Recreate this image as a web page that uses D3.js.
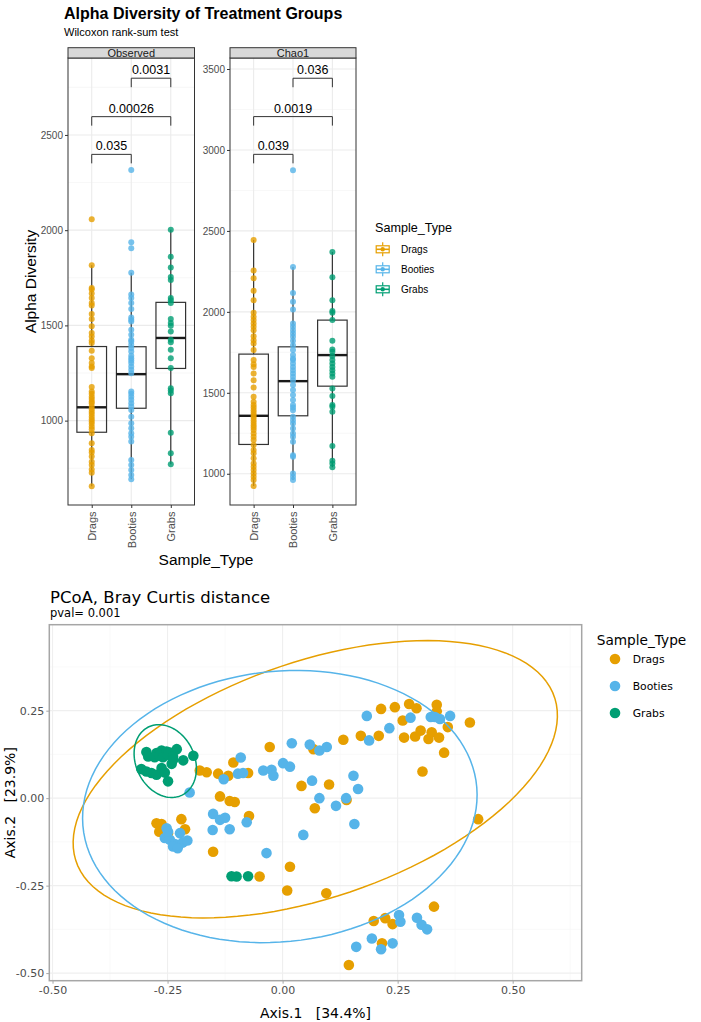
<!DOCTYPE html>
<html>
<head>
<meta charset="utf-8">
<script src="https://cdnjs.cloudflare.com/ajax/libs/d3/7.8.5/d3.min.js"></script>
<style>
body { margin: 0; background: #fff; }
svg { display: block; }
</style>
</head>
<body>
<svg width="701" height="1022"></svg>
<script>
var groups = ['Drags', 'Booties', 'Grabs'],
    colors = ['#E69F00', '#56B4E9', '#009E73'];

// Alpha diversity values, one array per facet and group
var observedDrags = [2058, 1816, 1697, 1688, 1667, 1644, 1618, 1604, 1560, 1534, 1495, 1460, 1442, 1421, 1407, 1367, 1328, 1302, 1284, 1276, 1176, 1153, 1141, 1126, 1113, 1100, 1091, 1074, 1060, 1047, 1035, 1021, 1007, 995, 983, 968, 955, 934, 881, 846, 832, 811, 784, 767, 744, 726, 656];
var observedBooties = [2316, 1937, 1905, 1776, 1662, 1644, 1618, 1586, 1542, 1530, 1521, 1477, 1451, 1425, 1416, 1398, 1381, 1363, 1340, 1328, 1316, 1302, 1284, 1267, 1249, 1153, 1141, 1126, 1109, 1091, 1074, 1056, 1021, 986, 960, 934, 916, 890, 793, 767, 741, 714, 692];
var observedGrabs = [2002, 1860, 1804, 1754, 1739, 1644, 1632, 1618, 1534, 1513, 1498, 1468, 1425, 1411, 1372, 1328, 1276, 1170, 1158, 1144, 937, 829, 771];
var chao1Drags = [2444, 2255, 2208, 2130, 2072, 1994, 1969, 1949, 1928, 1908, 1887, 1850, 1825, 1805, 1764, 1702, 1677, 1660, 1620, 1578, 1533, 1475, 1444, 1424, 1410, 1393, 1377, 1362, 1348, 1331, 1315, 1300, 1286, 1270, 1249, 1228, 1208, 1177, 1146, 1126, 1095, 1064, 1043, 1023, 1002, 981, 961, 924];
var chao1Booties = [2874, 2277, 2117, 2062, 2015, 1928, 1908, 1887, 1867, 1846, 1821, 1794, 1764, 1733, 1712, 1702, 1681, 1660, 1640, 1620, 1599, 1578, 1548, 1517, 1486, 1455, 1424, 1410, 1393, 1352, 1331, 1311, 1280, 1249, 1228, 1198, 1115, 1105, 1002, 981, 961];
var chao1Grabs = [2370, 2214, 2072, 2006, 1994, 1949, 1821, 1768, 1753, 1727, 1702, 1681, 1660, 1640, 1620, 1599, 1527, 1480, 1424, 1414, 1383, 1171, 1080, 1064, 1040];

// box stats: [lower whisker, q1, median, q3, upper whisker]
var observedBox = [[656, 939, 1070, 1389, 1816], [692, 1065, 1244, 1388, 1776], [771, 1274, 1434, 1621, 2002]];
var chao1Box = [[924, 1181, 1358, 1739, 2444], [961, 1358, 1572, 1784, 2277], [1040, 1541, 1733, 1949, 2370]];

var observedTicks = [1000, 1500, 2000, 2500],
    observedMinor = [750, 1250, 1750, 2250, 2750],
    chao1Ticks = [1000, 1500, 2000, 2500, 3000, 3500],
    chao1Minor = [1250, 1750, 2250, 2750, 3250];

var signifPairs = [[0, 1], [0, 2], [1, 2]],
    observedP = ['0.035', '0.00026', '0.0031'],
    observedBracket = [2398, 2596, 2798],
    chao1P = ['0.039', '0.0019', '0.036'],
    chao1Bracket = [2973, 3206, 3443];

// PCoA coordinates [Axis.1, Axis.2]
var pcoaDrags = [[-0.180, 0.079], [-0.165, 0.074], [-0.140, 0.070], [-0.118, 0.064], [-0.107, 0.102], [-0.075, 0.072],
    [-0.136, 0.005], [-0.115, -0.008], [-0.104, -0.011], [-0.073, -0.051], [-0.151, -0.153], [0.016, -0.196],
    [-0.028, 0.146], [0.041, 0.035], [0.070, -0.029], [0.101, 0.039], [0.132, 0.167], [0.067, 0.140],
    [0.139, -0.005], [-0.274, -0.072], [-0.263, -0.074], [-0.268, -0.096], [-0.220, -0.060], [-0.212, -0.089],
    [-0.249, -0.100], [0.214, 0.255], [0.244, 0.260], [0.275, 0.269], [0.291, 0.257], [0.335, 0.267],
    [0.335, 0.248], [0.261, 0.222], [0.170, 0.178], [0.209, 0.178], [0.264, 0.173], [0.288, 0.176],
    [0.300, 0.193], [0.317, 0.169], [0.324, 0.188], [0.340, 0.173], [0.359, 0.203], [0.351, 0.130],
    [0.407, 0.216], [0.304, 0.076], [0.425, -0.060], [-0.050, -0.224], [0.010, -0.264], [0.095, -0.272],
    [0.329, -0.310], [0.198, -0.351], [0.223, -0.343], [0.239, -0.360], [0.216, -0.415], [0.144, -0.477]];
var pcoaBooties = [[-0.202, 0.016], [-0.128, 0.054], [-0.091, 0.116], [-0.097, 0.070], [-0.086, 0.072], [-0.042, 0.079],
    [-0.024, 0.081], [-0.020, 0.064], [0.001, 0.100], [0.016, 0.090], [0.020, 0.157], [0.059, 0.153],
    [0.080, 0.136], [0.096, 0.146], [0.064, 0.050], [0.080, 0.000], [0.116, -0.022], [-0.151, -0.045],
    [-0.136, -0.062], [-0.125, -0.056], [-0.115, -0.089], [-0.078, -0.069], [-0.152, -0.091], [0.045, -0.105],
    [-0.035, -0.157], [-0.252, -0.086], [-0.256, -0.114], [-0.245, -0.119], [-0.234, -0.131], [-0.223, -0.100],
    [-0.217, -0.127], [-0.207, -0.121], [-0.238, -0.138], [-0.249, -0.096], [-0.228, -0.143], [0.183, 0.235],
    [0.232, 0.200], [0.188, 0.165], [0.278, 0.230], [0.322, 0.232], [0.331, 0.232], [0.342, 0.226],
    [0.364, 0.235], [0.154, 0.064], [0.164, 0.026], [0.138, 0.000], [0.156, -0.074], [0.253, -0.334],
    [0.256, -0.353], [0.292, -0.342], [0.302, -0.362], [0.314, -0.375], [0.194, -0.401], [0.239, -0.415],
    [0.160, -0.425], [0.214, -0.432]];
var pcoaGrabs = [[-0.296, 0.132], [-0.274, 0.129], [-0.263, 0.136], [-0.252, 0.133], [-0.245, 0.130], [-0.230, 0.140],
    [-0.292, 0.119], [-0.278, 0.117], [-0.268, 0.121], [-0.260, 0.117], [-0.249, 0.124], [-0.238, 0.119],
    [-0.241, 0.098], [-0.216, 0.108], [-0.194, 0.121], [-0.307, 0.083], [-0.296, 0.076], [-0.285, 0.072],
    [-0.274, 0.067], [-0.263, 0.086], [-0.256, 0.073], [-0.249, 0.048], [-0.238, 0.110],
    [-0.111, -0.223], [-0.100, -0.224], [-0.075, -0.223]];

// 95% ellipses: [cx, cy, semi-axis a, semi-axis b, angle in degrees]
var ellipseParams = [[0.071, 0.054, 0.5745, 0.3223, 29], [-0.006, -0.024, 0.4348, 0.3821, 20.5], [-0.255, 0.106, 0.1056, 0.0653, -77.5]];

var pcoaXTicks = [-0.5, -0.25, 0, 0.25, 0.5],
    pcoaYTicks = [-0.5, -0.25, 0, 0.25];

var svg = d3.select('svg'),
    sans = 'Liberation Sans, Arial, Helvetica, sans-serif',
    dejavu = 'DejaVu Sans, Verdana, sans-serif';

// ---------- Alpha diversity ----------
svg.append('text').attr('x', 64).attr('y', 18.5)
    .attr('font-family', sans).attr('font-size', 16).attr('font-weight', 'bold').attr('fill', '#000')
    .text('Alpha Diversity of Treatment Groups');
svg.append('text').attr('x', 64).attr('y', 35.5)
    .attr('font-family', sans).attr('font-size', 11).attr('fill', '#000')
    .text('Wilcoxon rank-sum test');

var panelTop = 58, panelBottom = 505;

function drawFacet(f) {
    var g = svg.append('g');
    var x = d3.scalePoint().domain(groups).range([f.x0, f.x1]).padding(0.6);
    var y = d3.scaleLinear().domain(f.domain).range([panelBottom, panelTop]);
    var bw = x.step() * 0.75;

    g.append('rect').attr('x', f.x0).attr('y', panelTop).attr('width', f.x1 - f.x0).attr('height', panelBottom - panelTop)
        .attr('fill', '#fff');
    g.selectAll('.minor').data(f.minor).enter().append('line')
        .attr('x1', f.x0).attr('x2', f.x1).attr('y1', y).attr('y2', y)
        .attr('stroke', '#F2F2F2').attr('stroke-width', 0.6);
    g.selectAll('.major').data(f.ticks).enter().append('line')
        .attr('x1', f.x0).attr('x2', f.x1).attr('y1', y).attr('y2', y)
        .attr('stroke', '#EBEBEB').attr('stroke-width', 1.1);
    g.selectAll('.vgrid').data(groups).enter().append('line')
        .attr('x1', x).attr('x2', x).attr('y1', panelTop).attr('y2', panelBottom)
        .attr('stroke', '#EBEBEB').attr('stroke-width', 1.1);

    // boxplots
    f.box.forEach(function (s, i) {
        var cx = x(groups[i]);
        g.append('line').attr('x1', cx).attr('x2', cx).attr('y1', y(s[0])).attr('y2', y(s[1]))
            .attr('stroke', '#333').attr('stroke-width', 1.2);
        g.append('line').attr('x1', cx).attr('x2', cx).attr('y1', y(s[3])).attr('y2', y(s[4]))
            .attr('stroke', '#333').attr('stroke-width', 1.2);
        g.append('rect').attr('x', cx - bw / 2).attr('y', y(s[3])).attr('width', bw).attr('height', y(s[1]) - y(s[3]))
            .attr('fill', 'none').attr('stroke', '#333').attr('stroke-width', 1.2);
        g.append('line').attr('x1', cx - bw / 2).attr('x2', cx + bw / 2).attr('y1', y(s[2])).attr('y2', y(s[2]))
            .attr('stroke', '#1a1a1a').attr('stroke-width', 2.4);
    });

    // points
    f.series.forEach(function (vals, i) {
        g.selectAll(null).data(vals).enter().append('circle')
            .attr('cx', x(groups[i])).attr('cy', y).attr('r', 3)
            .attr('fill', colors[i]).attr('fill-opacity', 0.8);
    });

    // significance brackets
    signifPairs.forEach(function (p, k) {
        var xa = x(groups[p[0]]), xb = x(groups[p[1]]), yb = y(f.bracket[k]);
        g.append('path').attr('d', 'M' + xa + ',' + (yb + 9) + 'V' + yb + 'H' + xb + 'V' + (yb + 9))
            .attr('fill', 'none').attr('stroke', '#333').attr('stroke-width', 1);
        g.append('text').attr('x', (xa + xb) / 2).attr('y', yb - 4)
            .attr('text-anchor', 'middle').attr('font-family', sans).attr('font-size', 12.5).attr('fill', '#000')
            .text(f.p[k]);
    });

    g.append('rect').attr('x', f.x0).attr('y', panelTop).attr('width', f.x1 - f.x0).attr('height', panelBottom - panelTop)
        .attr('fill', 'none').attr('stroke', '#333').attr('stroke-width', 1);

    // strip
    g.append('rect').attr('x', f.x0).attr('y', 47.7).attr('width', f.x1 - f.x0).attr('height', panelTop - 47.7)
        .attr('fill', '#D9D9D9').attr('stroke', '#333').attr('stroke-width', 1);
    g.append('text').attr('x', (f.x0 + f.x1) / 2).attr('y', 57.3)
        .attr('text-anchor', 'middle').attr('font-family', sans).attr('font-size', 11).attr('fill', '#1a1a1a')
        .text(f.label);

    var ya = g.append('g').attr('transform', 'translate(' + f.x0 + ',0)')
        .call(d3.axisLeft(y).tickValues(f.ticks).tickFormat(d3.format('d')).tickSize(3).tickPadding(2));
    ya.select('.domain').remove();
    ya.selectAll('line').attr('stroke', '#333');
    ya.selectAll('text').attr('font-family', sans).attr('font-size', 10).attr('fill', '#4D4D4D');

    var xa = g.append('g').attr('transform', 'translate(0,' + panelBottom + ')')
        .call(d3.axisBottom(x).tickSize(3));
    xa.select('.domain').remove();
    xa.selectAll('line').attr('stroke', '#333');
    xa.selectAll('text').attr('font-family', sans).attr('font-size', 11).attr('fill', '#4D4D4D')
        .attr('transform', 'rotate(-90)').attr('text-anchor', 'end')
        .attr('x', -6.5).attr('y', 0).attr('dy', '0.35em');
}

drawFacet({ label: 'Observed', x0: 68, x1: 194.5, domain: [557, 2904], ticks: observedTicks, minor: observedMinor,
    box: observedBox, series: [observedDrags, observedBooties, observedGrabs], p: observedP, bracket: observedBracket });
drawFacet({ label: 'Chao1', x0: 230, x1: 356, domain: [807, 3568], ticks: chao1Ticks, minor: chao1Minor,
    box: chao1Box, series: [chao1Drags, chao1Booties, chao1Grabs], p: chao1P, bracket: chao1Bracket });

svg.append('text').attr('x', 206).attr('y', 565)
    .attr('text-anchor', 'middle').attr('font-family', sans).attr('font-size', 15.5).attr('fill', '#000')
    .text('Sample_Type');
svg.append('text').attr('transform', 'translate(36,281.5) rotate(-90)')
    .attr('text-anchor', 'middle').attr('font-family', sans).attr('font-size', 15.5).attr('fill', '#000')
    .text('Alpha Diversity');

// legend with boxplot keys
var legTop = svg.append('g');
legTop.append('text').attr('x', 375).attr('y', 231.7)
    .attr('font-family', sans).attr('font-size', 12.6).attr('fill', '#000').text('Sample_Type');
groups.forEach(function (name, i) {
    var yc = 249.3 + 20 * i, k = legTop.append('g').attr('transform', 'translate(382.7,' + yc + ')');
    k.append('line').attr('y1', -7).attr('y2', 7).attr('stroke', colors[i]).attr('stroke-width', 1.2);
    k.append('rect').attr('x', -6.5).attr('y', -3.5).attr('width', 13).attr('height', 7)
        .attr('fill', '#fff').attr('stroke', colors[i]).attr('stroke-width', 1.2);
    k.append('line').attr('x1', -6.5).attr('x2', 6.5).attr('stroke', colors[i]).attr('stroke-width', 1.6);
    k.append('circle').attr('r', 2.2).attr('fill', colors[i]);
    legTop.append('text').attr('x', 401).attr('y', yc).attr('dy', '0.35em')
        .attr('font-family', sans).attr('font-size', 10).attr('fill', '#000').text(name);
});

// ---------- PCoA ----------
svg.append('text').attr('x', 50).attr('y', 602.5)
    .attr('font-family', dejavu).attr('font-size', 16.5).attr('fill', '#000')
    .text('PCoA, Bray Curtis distance');
svg.append('text').attr('x', 50).attr('y', 617)
    .attr('font-family', dejavu).attr('font-size', 11.5).attr('fill', '#000')
    .text('pval= 0.001');

var px0 = 49.3, px1 = 581.7, py0 = 624.7, py1 = 980.7;
var xP = d3.scaleLinear().domain([-0.507, 0.650]).range([px0, px1]),
    yP = d3.scaleLinear().domain([-0.5217, 0.4957]).range([py1, py0]);

var pg = svg.append('g');
pg.append('rect').attr('x', px0).attr('y', py0).attr('width', px1 - px0).attr('height', py1 - py0).attr('fill', '#fff');
var xMinor = pcoaXTicks.map(function (d) { return d + 0.125; }),
    yMinor = pcoaYTicks.map(function (d) { return d + 0.125; });
pg.selectAll('.xm').data(xMinor).enter().append('line')
    .attr('x1', xP).attr('x2', xP).attr('y1', py0).attr('y2', py1).attr('stroke', '#F7F7F7').attr('stroke-width', 0.6);
pg.selectAll('.ym').data(yMinor).enter().append('line')
    .attr('x1', px0).attr('x2', px1).attr('y1', yP).attr('y2', yP).attr('stroke', '#F7F7F7').attr('stroke-width', 0.6);
pg.selectAll('.xg').data(pcoaXTicks).enter().append('line')
    .attr('x1', xP).attr('x2', xP).attr('y1', py0).attr('y2', py1).attr('stroke', '#EFEFEF').attr('stroke-width', 1.1);
pg.selectAll('.yg').data(pcoaYTicks).enter().append('line')
    .attr('x1', px0).attr('x2', px1).attr('y1', yP).attr('y2', yP).attr('stroke', '#EFEFEF').attr('stroke-width', 1.1);

[pcoaDrags, pcoaBooties, pcoaGrabs].forEach(function (pts, i) {
    pg.selectAll(null).data(pts).enter().append('circle')
        .attr('cx', function (d) { return xP(d[0]); })
        .attr('cy', function (d) { return yP(d[1]); })
        .attr('r', 5.3).attr('fill', colors[i]);
});

var ellipseLine = d3.line().x(function (d) { return xP(d[0]); }).y(function (d) { return yP(d[1]); });
ellipseParams.forEach(function (p, i) {
    var t = p[4] * Math.PI / 180;
    var pts = d3.range(0, 121).map(function (k) {
        var u = k / 120 * 2 * Math.PI, ex = p[2] * Math.cos(u), ey = p[3] * Math.sin(u);
        return [p[0] + ex * Math.cos(t) - ey * Math.sin(t), p[1] + ex * Math.sin(t) + ey * Math.cos(t)];
    });
    pg.append('path').attr('d', ellipseLine(pts))
        .attr('fill', 'none').attr('stroke', colors[i]).attr('stroke-width', 1.5);
});

pg.append('rect').attr('x', px0).attr('y', py0).attr('width', px1 - px0).attr('height', py1 - py0)
    .attr('fill', 'none').attr('stroke', '#A6A6A6').attr('stroke-width', 1.5);

var fmt = function (d) { return d.toFixed(2); };
var xAx = pg.append('g').attr('transform', 'translate(0,' + py1 + ')')
    .call(d3.axisBottom(xP).tickValues(pcoaXTicks).tickFormat(fmt).tickSize(3).tickPadding(3));
var yAx = pg.append('g').attr('transform', 'translate(' + px0 + ',0)')
    .call(d3.axisLeft(yP).tickValues(pcoaYTicks).tickFormat(fmt).tickSize(3).tickPadding(2));
[xAx, yAx].forEach(function (a) {
    a.select('.domain').remove();
    a.selectAll('line').attr('stroke', '#A6A6A6');
    a.selectAll('text').attr('font-family', dejavu).attr('font-size', 11).attr('fill', '#4D4D4D');
});

svg.append('text').attr('x', (px0 + px1) / 2).attr('y', 1018)
    .attr('text-anchor', 'middle').attr('font-family', dejavu).attr('font-size', 14).attr('fill', '#000')
    .style('white-space', 'pre').text('Axis.1   [34.4%]');
svg.append('text').attr('transform', 'translate(10,' + ((py0 + py1) / 2) + ') rotate(-90)')
    .attr('text-anchor', 'middle').attr('dy', '0.35em').attr('font-family', dejavu).attr('font-size', 14).attr('fill', '#000')
    .style('white-space', 'pre').text('Axis.2   [23.9%]');

var legB = svg.append('g');
legB.append('text').attr('x', 596.7).attr('y', 645)
    .attr('font-family', dejavu).attr('font-size', 13.7).attr('fill', '#000').text('Sample_Type');
groups.forEach(function (name, i) {
    var yc = 659 + 27 * i;
    legB.append('circle').attr('cx', 615).attr('cy', yc).attr('r', 5.3).attr('fill', colors[i]);
    legB.append('text').attr('x', 632.7).attr('y', yc).attr('dy', '0.35em')
        .attr('font-family', dejavu).attr('font-size', 10.8).attr('fill', '#000').text(name);
});
</script>
</body>
</html>
